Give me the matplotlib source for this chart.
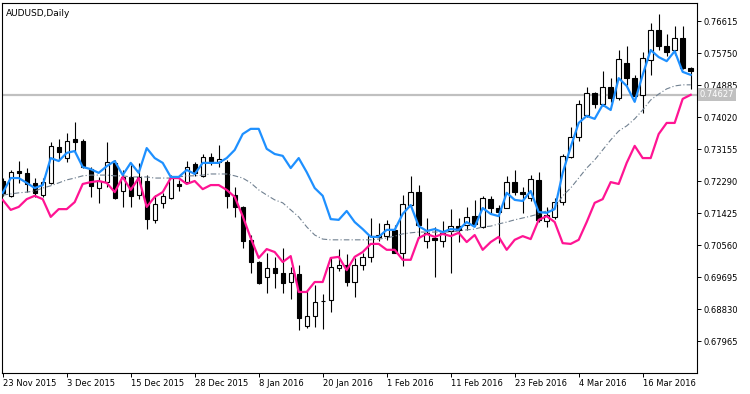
import numpy as np
import matplotlib
matplotlib.use("Agg")
import matplotlib.pyplot as plt
import matplotlib.transforms as mtransforms

# daily AUDUSD candles, 23 Nov 2015 .. 24 Mar 2016
opens = [0.7229, 0.7189, 0.7256, 0.7251, 0.7224, 0.7191, 0.7224, 0.7321, 0.7291, 0.7343,
         0.7337, 0.7261, 0.7210, 0.7226, 0.7278, 0.7202, 0.7240, 0.7191, 0.7229, 0.7124,
         0.7170, 0.7183, 0.7221, 0.7226, 0.7275, 0.7243, 0.7294, 0.7280, 0.7280, 0.7191,
         0.7159, 0.7070, 0.7010, 0.6970, 0.6994, 0.6980, 0.6956, 0.6978, 0.6837, 0.6864,
         0.6905, 0.6907, 0.6994, 0.7002, 0.6956, 0.7002, 0.7024, 0.7078, 0.7080, 0.7097,
         0.7034, 0.7164, 0.7199, 0.7067, 0.7075, 0.7067, 0.7094, 0.7107, 0.7110, 0.7134,
         0.7105, 0.7180, 0.7156, 0.7156, 0.7226, 0.7199, 0.7183, 0.7232, 0.7121, 0.7132,
         0.7172, 0.7294, 0.7348, 0.7407, 0.7467, 0.7437, 0.7483, 0.7453, 0.7548, 0.7507,
         0.7461, 0.7556, 0.7637, 0.7594, 0.7583, 0.7616, 0.7535]
highs = [0.7237, 0.7259, 0.7283, 0.7264, 0.7237, 0.7237, 0.7334, 0.7343, 0.7359, 0.7389,
         0.7343, 0.7267, 0.7240, 0.7334, 0.7286, 0.7259, 0.7272, 0.7278, 0.7245, 0.7191,
         0.7197, 0.7245, 0.7232, 0.7283, 0.7280, 0.7302, 0.7305, 0.7326, 0.7286, 0.7213,
         0.7162, 0.7083, 0.7013, 0.7034, 0.7024, 0.7048, 0.6997, 0.7002, 0.6934, 0.6948,
         0.6924, 0.7021, 0.7045, 0.7032, 0.7021, 0.7034, 0.7129, 0.7116, 0.7124, 0.7110,
         0.7191, 0.7243, 0.7218, 0.7129, 0.7105, 0.7121, 0.7153, 0.7129, 0.7159, 0.7178,
         0.7189, 0.7189, 0.7164, 0.7243, 0.7259, 0.7213, 0.7245, 0.7253, 0.7159, 0.7183,
         0.7302, 0.7375, 0.7448, 0.7483, 0.7470, 0.7526, 0.7507, 0.7583, 0.7594, 0.7516,
         0.7578, 0.7656, 0.7680, 0.7626, 0.7648, 0.7648, 0.7537]
lows = [0.7189, 0.7186, 0.7224, 0.7199, 0.7186, 0.7186, 0.7221, 0.7286, 0.7280, 0.7307,
        0.7264, 0.7186, 0.7170, 0.7213, 0.7180, 0.7159, 0.7159, 0.7180, 0.7099, 0.7116,
        0.7156, 0.7180, 0.7202, 0.7224, 0.7243, 0.7240, 0.7272, 0.7267, 0.7156, 0.7132,
        0.7048, 0.6980, 0.6951, 0.6926, 0.6940, 0.6926, 0.6910, 0.6826, 0.6832, 0.6834,
        0.6829, 0.6875, 0.6986, 0.6945, 0.6915, 0.6988, 0.7010, 0.7067, 0.7070, 0.7034,
        0.6999, 0.7159, 0.7075, 0.7048, 0.6970, 0.7051, 0.6980, 0.7064, 0.7097, 0.7107,
        0.7102, 0.7143, 0.7061, 0.7155, 0.7191, 0.7143, 0.7175, 0.7118, 0.7105, 0.7126,
        0.7164, 0.7291, 0.7337, 0.7402, 0.7426, 0.7432, 0.7443, 0.7448, 0.7489, 0.7453,
        0.7413, 0.7516, 0.7583, 0.7567, 0.7570, 0.7532, 0.7478]
closes = [0.7197, 0.7253, 0.7251, 0.7221, 0.7197, 0.7226, 0.7324, 0.7307, 0.7337, 0.7334,
          0.7267, 0.7216, 0.7229, 0.7280, 0.7183, 0.7240, 0.7189, 0.7240, 0.7126, 0.7167,
          0.7189, 0.7237, 0.7216, 0.7267, 0.7251, 0.7294, 0.7283, 0.7289, 0.7189, 0.7159,
          0.7067, 0.7010, 0.6953, 0.6994, 0.6980, 0.6953, 0.6980, 0.6859, 0.6864, 0.6902,
          0.6904, 0.6997, 0.7002, 0.6956, 0.7002, 0.7024, 0.7080, 0.7083, 0.7113, 0.7035,
          0.7167, 0.7199, 0.7110, 0.7088, 0.7070, 0.7088, 0.7107, 0.7097, 0.7132, 0.7113,
          0.7183, 0.7156, 0.7145, 0.7226, 0.7199, 0.7194, 0.7234, 0.7124, 0.7137, 0.7172,
          0.7297, 0.7348, 0.7437, 0.7467, 0.7437, 0.7483, 0.7453, 0.7559, 0.7507, 0.7459,
          0.7562, 0.7637, 0.7594, 0.7578, 0.7616, 0.7535, 0.7526]

# indicator lines
upper_line = [0.7197, 0.7237, 0.7237, 0.7224, 0.7210, 0.7218, 0.7291, 0.7283, 0.7305, 0.7310,
              0.7267, 0.7261, 0.7251, 0.7269, 0.7283, 0.7245, 0.7278, 0.7251, 0.7318, 0.7291,
              0.7278, 0.7240, 0.7240, 0.7259, 0.7248, 0.7278, 0.7278, 0.7278, 0.7291, 0.7313,
              0.7356, 0.7370, 0.7370, 0.7316, 0.7302, 0.7297, 0.7264, 0.7291, 0.7253, 0.7210,
              0.7189, 0.7126, 0.7124, 0.7148, 0.7118, 0.7099, 0.7078, 0.7078, 0.7097, 0.7097,
              0.7140, 0.7164, 0.7107, 0.7094, 0.7099, 0.7091, 0.7099, 0.7097, 0.7118, 0.7105,
              0.7156, 0.7140, 0.7134, 0.7197, 0.7178, 0.7175, 0.7202, 0.7145, 0.7143, 0.7153,
              0.7251, 0.7321, 0.7386, 0.7405, 0.7397, 0.7435, 0.7421, 0.7507, 0.7486, 0.7443,
              0.7516, 0.7583, 0.7564, 0.7553, 0.7580, 0.7524, 0.7516]
lower_line = [0.7178, 0.7151, 0.7159, 0.7180, 0.7189, 0.7180, 0.7132, 0.7153, 0.7153, 0.7172,
              0.7221, 0.7226, 0.7229, 0.7224, 0.7199, 0.7240, 0.7205, 0.7237, 0.7159, 0.7186,
              0.7199, 0.7237, 0.7237, 0.7221, 0.7229, 0.7207, 0.7218, 0.7218, 0.7205, 0.7186,
              0.7134, 0.7075, 0.7021, 0.7045, 0.7037, 0.7010, 0.7026, 0.6929, 0.6929, 0.6956,
              0.6956, 0.7021, 0.7024, 0.6988, 0.7024, 0.7037, 0.7059, 0.7059, 0.7043, 0.7043,
              0.7016, 0.7016, 0.7075, 0.7086, 0.7078, 0.7086, 0.7080, 0.7089, 0.7064, 0.7083,
              0.7043, 0.7064, 0.7078, 0.7043, 0.7070, 0.7080, 0.7072, 0.7124, 0.7134, 0.7118,
              0.7061, 0.7059, 0.7070, 0.7118, 0.7170, 0.7180, 0.7226, 0.7221, 0.7278, 0.7324,
              0.7291, 0.7291, 0.7356, 0.7386, 0.7386, 0.7451, 0.7462]
mid_line = [0.7191, 0.7194, 0.7197, 0.7199, 0.7202, 0.7210, 0.7216, 0.7224, 0.7232, 0.7237,
            0.7243, 0.7245, 0.7245, 0.7245, 0.7243, 0.7243, 0.7240, 0.7240, 0.7240, 0.7237,
            0.7237, 0.7237, 0.7240, 0.7243, 0.7243, 0.7245, 0.7248, 0.7248, 0.7248, 0.7243,
            0.7237, 0.7224, 0.7205, 0.7191, 0.7178, 0.7170, 0.7151, 0.7132, 0.7105, 0.7083,
            0.7072, 0.7070, 0.7070, 0.7070, 0.7070, 0.7070, 0.7070, 0.7072, 0.7075, 0.7080,
            0.7086, 0.7089, 0.7091, 0.7091, 0.7091, 0.7091, 0.7091, 0.7094, 0.7097, 0.7099,
            0.7105, 0.7107, 0.7113, 0.7118, 0.7124, 0.7129, 0.7134, 0.7140, 0.7148, 0.7156,
            0.7189, 0.7210, 0.7237, 0.7264, 0.7286, 0.7313, 0.7340, 0.7364, 0.7378, 0.7397,
            0.7421, 0.7448, 0.7464, 0.7478, 0.7486, 0.7489, 0.7489]

level = 0.74627
price_ticks = [0.67965, 0.68830, 0.69695, 0.70560, 0.71425, 0.72290,
               0.73155, 0.74020, 0.74885, 0.75750, 0.76615]
date_labels = ["23 Nov 2015", "3 Dec 2015", "15 Dec 2015", "28 Dec 2015", "8 Jan 2016",
               "20 Jan 2016", "1 Feb 2016", "11 Feb 2016", "23 Feb 2016", "4 Mar 2016",
               "16 Mar 2016"]

o = np.array(opens)
h = np.array(highs)
l = np.array(lows)
c = np.array(closes)
x = np.arange(len(o))

fig = plt.figure(figsize=(7.5, 3.94), dpi=100)
ax = fig.add_axes([2 / 750, 21 / 394, 695 / 750, 370 / 394])

ax.axhline(level, color="#C0C0C0", lw=1.6, zorder=1)

ax.vlines(x, l, h, color="black", lw=0.8, zorder=2)
up = c >= o
body_lo = np.minimum(o, c)
body_h = np.maximum(np.abs(c - o), 0.00012)
ax.bar(x[up], body_h[up], bottom=body_lo[up], width=0.55, color="white",
       edgecolor="black", linewidth=0.8, zorder=3)
ax.bar(x[~up], body_h[~up], bottom=body_lo[~up], width=0.55, color="black",
       edgecolor="black", linewidth=0.8, zorder=3)

ax.plot(x, mid_line, color="#708090", lw=0.8, linestyle=(0, (5, 2, 1, 2)), zorder=4)
ax.plot(x, lower_line, color="#FF1493", lw=1.6, zorder=5)
ax.plot(x, upper_line, color="#1E90FF", lw=1.6, zorder=6)

ax.set_xlim(-0.09, 86.79)
ax.set_ylim(0.67100, 0.77102)

ax.yaxis.tick_right()
ax.set_yticks(price_ticks)
ax.set_yticklabels([f"{v:.5f}" for v in price_ticks])
ax.set_xticks(np.arange(0, 81, 8))
ax.set_xticklabels(date_labels)
for lab in ax.get_xticklabels():
    lab.set_horizontalalignment("left")
ax.tick_params(axis="both", direction="out", length=3, width=0.7, labelsize=6, pad=1.5)
ax.tick_params(axis="y", pad=2)
for sp in ax.spines.values():
    sp.set_linewidth(0.8)
    sp.set_color("black")

ax.text(0.006, 0.985, "AUDUSD,Daily", transform=ax.transAxes, fontsize=6.5,
        va="top", ha="left")

trans = mtransforms.blended_transform_factory(ax.transAxes, ax.transData)
ax.text(1.004, level, f"{level:.5f}", transform=trans, fontsize=6, color="white",
        va="center", ha="left",
        bbox=dict(boxstyle="square,pad=0.2", facecolor="#C0C0C0", edgecolor="none"))

fig.savefig("out.png", dpi=100)
